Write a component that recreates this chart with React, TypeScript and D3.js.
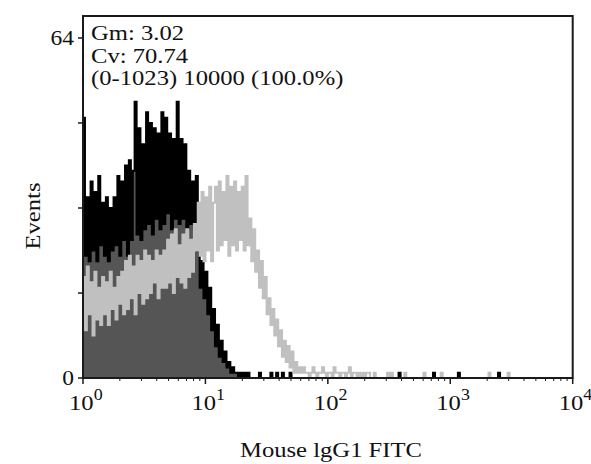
import * as d3 from 'd3';

const W = 591;
const H = 464;
const BINS_PER_DECADE = 64;

// FL1 histogram counts, one value per 1/64 decade channel
const blackCounts = [
  49, 23, 34, 22, 37, 24, 35, 22, 38, 25,
  33, 23, 34, 22, 32, 24, 34, 25, 38, 23,
  37, 26, 40, 23, 41, 26, 39, 52, 27, 47,
  26, 44, 28, 50, 29, 48, 27, 47, 30, 46,
  28, 50, 29, 49, 31, 46, 28, 45, 30, 52,
  29, 45, 30, 44, 28, 39, 29, 37, 28, 38,
  24, 17, 22, 15, 20, 12, 17, 9, 13, 6,
  10, 4, 7, 3, 5, 2, 3, 1, 2, 1,
  1, 0, 1, 0, 1, 0, 1, 0, 0, 0,
  0, 0, 1, 0, 0, 0, 0, 0, 1, 0, 0, 1, 0, 0, 1, 0, 0, 0, 1
];
// channels further out holding a single event
const blackSingles = [165, 183, 196, 217];

const grayCounts = [
  19, 9, 21, 12, 18, 8, 20, 11, 17, 10, 19,
  12, 18, 10, 20, 13, 17, 11, 19, 14, 20, 12,
  22, 13, 23, 15, 21, 12, 23, 16, 22, 14, 24, 15,
  23, 16, 22, 18, 24, 15, 23, 17, 24,
  17, 26, 18, 27, 16, 28, 19, 25, 18, 27, 17, 28, 19, 26, 20, 29,
  24, 33, 23, 35, 22, 34, 24, 36, 22, 33,
  36, 24, 37, 25, 35, 26, 38, 23, 36, 25, 37, 24, 35, 26, 36, 24, 38, 25,
  30, 22, 28, 20, 24, 17, 22, 15, 19, 12, 15, 10, 13, 8, 11, 6, 9, 4, 7, 3, 6, 2, 5, 1, 3, 1, 2, 1,
  2, 1, 1, 0, 1, 2, 1, 0, 1, 1, 2, 1, 0, 1, 1, 0, 2, 1, 1, 0, 1, 1, 0, 1, 2, 0, 1, 1, 0, 1, 0,
  1, 0, 1, 1, 0, 0, 1, 0, 0
];
const graySingles = [159, 161, 168, 178, 187, 212, 222];

const yTicks = [0, 16, 32, 48, 64];
const yLabelled = [0, 64];
const xDecades = [0, 1, 2, 3, 4];
const statLines = ['Gm: 3.02', 'Cv: 70.74', '(0-1023) 10000 (100.0%)'];

const FONT = '"Liberation Serif", "Times New Roman", Times, serif';
const STRETCH = 1.12;

const left = 83;
const right = 572.7;
const top = 16;
const bottom = 378;

const x = d3.scaleLog().domain([1, 10000]).range([left, right]);
const y = d3.scaleLinear().domain([0, 64]).range([bottom, 38]);

const channels = (counts: number[], singles: number[]) => {
  const vals = new Array(4 * BINS_PER_DECADE).fill(0);
  counts.forEach((c, i) => (vals[i] = c));
  singles.forEach((ch) => (vals[ch] = 1));
  return vals;
};

const stepPoints = (vals: number[]) => {
  const pts: [number, number][] = [];
  vals.forEach((v, i) => {
    pts.push([Math.pow(10, i / BINS_PER_DECADE), v]);
    pts.push([Math.pow(10, (i + 1) / BINS_PER_DECADE), v]);
  });
  return pts;
};

const line = d3.line<[number, number]>().x((d) => x(d[0])).y((d) => y(d[1]));
const area = d3
  .area<[number, number]>()
  .x((d) => x(d[0]))
  .y0(y(0))
  .y1((d) => y(d[1]));

const blackPts = stepPoints(channels(blackCounts, blackSingles));
const grayPts = stepPoints(channels(grayCounts, graySingles));

const minorTicks: number[] = [];
[0, 1, 2, 3].forEach((d) => {
  for (let k = 2; k <= 9; k++) minorTicks.push(k * Math.pow(10, d));
});

export default function App() {
  return (
    <div style={{ position: 'absolute', left: 0, top: 0 }}>
      <svg width={W} height={H} style={{ display: 'block', background: '#fff' }}>
        {/* histograms */}
        <path d={area(blackPts) || ''} fill="#555555" stroke="none" />
        <path d={line(blackPts) || ''} fill="none" stroke="#000" strokeWidth={2.1} />
        <path d={line(grayPts) || ''} fill="none" stroke="#c0c0c0" strokeWidth={2.1} />

        {/* frame */}
        <rect
          x={left}
          y={top}
          width={right - left}
          height={bottom - top}
          fill="none"
          stroke="#1a1a1a"
          strokeWidth={2}
        />

        {/* y axis */}
        {yTicks.map((t) => (
          <line key={t} x1={left - 5} x2={left} y1={y(t)} y2={y(t)} stroke="#1a1a1a" strokeWidth={1.5} />
        ))}
        {yLabelled.map((t) => (
          <g key={t} transform={`translate(${left - 9},${y(t) + 7}) scale(${STRETCH},1)`}>
            <text textAnchor="end" fontFamily={FONT} fontSize={21} fill="#111">
              {t}
            </text>
          </g>
        ))}

        {/* x axis */}
        {minorTicks.map((t) => (
          <line key={t} x1={x(t)} x2={x(t)} y1={bottom} y2={bottom + 3} stroke="#1a1a1a" strokeWidth={1} />
        ))}
        {xDecades.map((d) => (
          <line
            key={d}
            x1={x(Math.pow(10, d))}
            x2={x(Math.pow(10, d))}
            y1={bottom}
            y2={bottom + 6}
            stroke="#1a1a1a"
            strokeWidth={1.5}
          />
        ))}
        {xDecades.map((d) => (
          <g key={d} transform={`translate(${x(Math.pow(10, d)) - 14},410) scale(${STRETCH},1)`}>
            <text fontFamily={FONT} fontSize={22} fill="#111">
              10
              <tspan fontSize={16} dy={-10}>
                {d}
              </tspan>
            </text>
          </g>
        ))}

        {/* stats */}
        {statLines.map((s, i) => (
          <g key={s} transform={`translate(91,${40 + i * 22.5}) scale(${STRETCH},1)`}>
            <text fontFamily={FONT} fontSize={22} fill="#111">
              {s}
            </text>
          </g>
        ))}

        {/* axis titles */}
        <g transform={`translate(40,216) rotate(-90) scale(${STRETCH},1)`}>
          <text textAnchor="middle" fontFamily={FONT} fontSize={22} fill="#111">
            Events
          </text>
        </g>
        <g transform={`translate(331,457) scale(${STRETCH},1)`}>
          <text textAnchor="middle" fontFamily={FONT} fontSize={22} fill="#111">
            Mouse lgG1 FITC
          </text>
        </g>
      </svg>
    </div>
  );
}
